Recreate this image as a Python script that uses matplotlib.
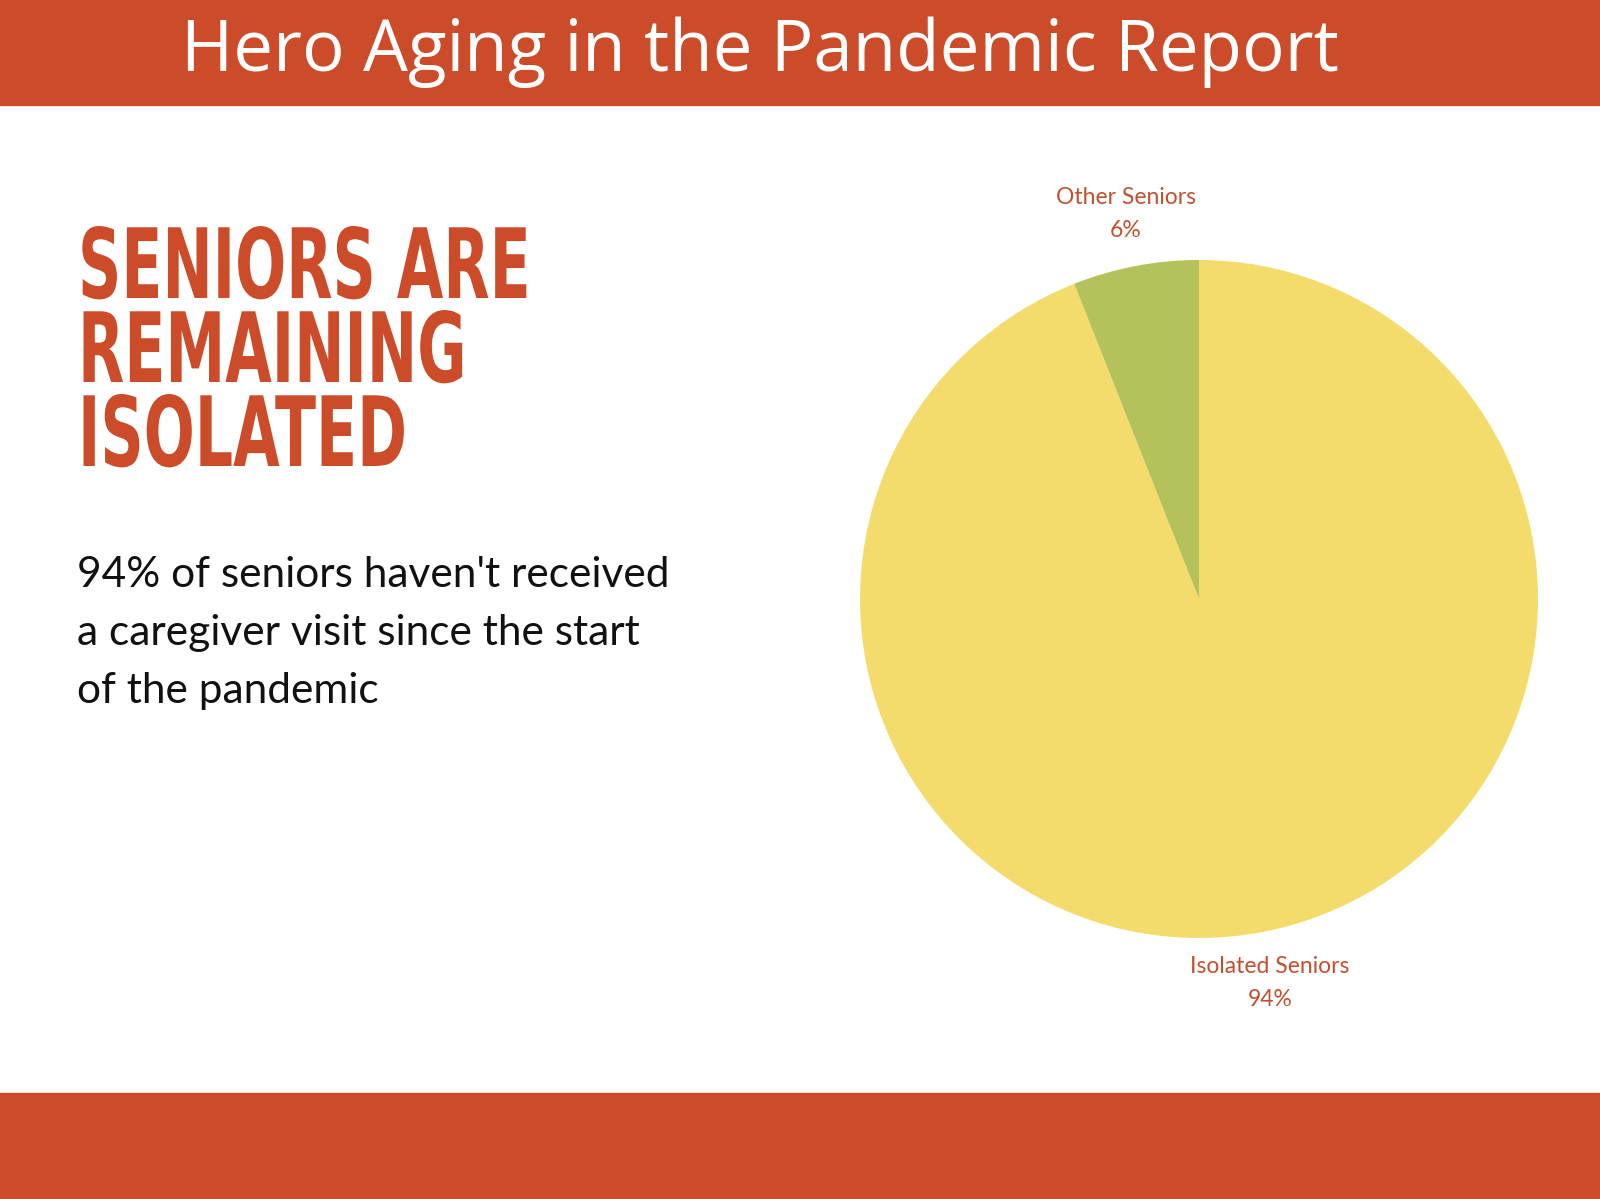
import matplotlib.pyplot as plt
from matplotlib.patches import Rectangle, PathPatch
from matplotlib.textpath import TextPath
from matplotlib.font_manager import FontProperties
from matplotlib.transforms import Affine2D

W, H = 1600, 1199
ORANGE = "#CC4B29"

labels = ["Isolated Seniors", "Other Seniors"]
shares = [94, 6]
colors = ["#F3DC6B", "#B5C25B"]

title = "Hero Aging in the Pandemic Report"
heading = ["SENIORS ARE", "REMAINING", "ISOLATED"]
body = ["94% of seniors haven't received",
        "a caregiver visit since the start",
        "of the pandemic"]


def fx(x):
    return x / W


def fy(y):
    return 1 - y / H


fig = plt.figure(figsize=(16, 11.99), dpi=100)
fig.patches.append(Rectangle((0, fy(105)), 1, 105 / H, transform=fig.transFigure, color=ORANGE))
fig.patches.append(Rectangle((0, 0), 1, fy(1093), transform=fig.transFigure, color=ORANGE))

fig.text(fx(760), fy(52), title, color="white", fontsize=51, family="Open Sans",
         ha="center", va="center")

# condensed heading: squeeze a bold glyph path horizontally
fp = FontProperties(family="DejaVu Sans", weight="bold")
for i, line in enumerate(heading):
    tp = TextPath((0, 0), line, size=97, prop=fp)
    tr = Affine2D().scale(0.62, 1.0).translate(78, H - (298 + i * 84))
    fig.patches.append(PathPatch(tr.transform_path(tp), color=ORANGE, lw=0,
                                 transform=None))

for i, line in enumerate(body):
    fig.text(fx(77), fy(575 + i * 58), line, color="#111111", fontsize=30.5, family="Lato",
             ha="left", va="center")

r = 339
cx, cy = 1199, 599
ax = fig.add_axes([fx(cx - r), fy(cy + r), 2 * r / W, 2 * r / H])
ax.pie(shares, colors=colors, startangle=90, counterclock=False,
       wedgeprops=dict(linewidth=0))
ax.set_aspect("auto")
ax.set_xlim(-1, 1)
ax.set_ylim(-1, 1)
ax.axis("off")

fig.text(fx(1126), fy(214), f"{labels[1]}\n{shares[1]}%", color="#C0502E", fontsize=16.5,
         family="Lato", ha="center", va="center", linespacing=1.7)
fig.text(fx(1270), fy(983), f"{labels[0]}\n{shares[0]}%", color="#C0502E", fontsize=16.5,
         family="Lato", ha="center", va="center", linespacing=1.7)

fig.savefig("out.png", dpi=100, facecolor="white")
